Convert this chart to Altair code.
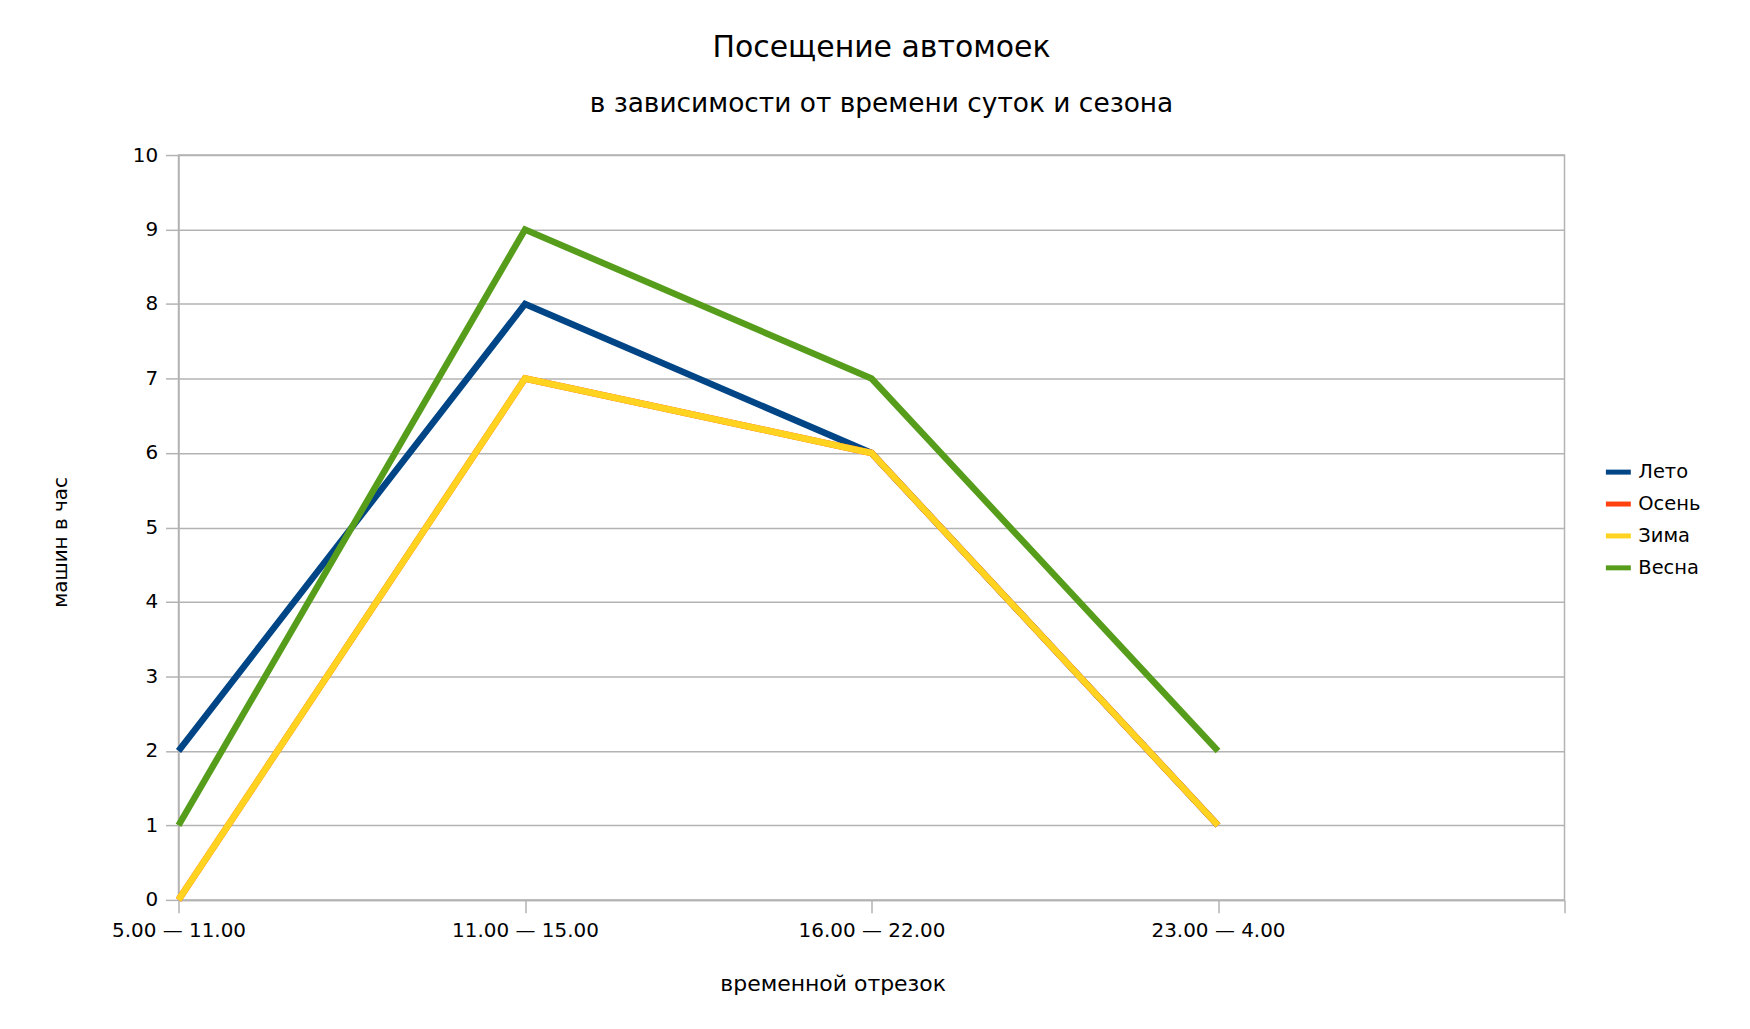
import altair as alt
import pandas as pd

categories = ["5.00 — 11.00", "11.00 — 15.00", "16.00 — 22.00", "23.00 — 4.00"]
series = ["Лето", "Осень", "Зима", "Весна"]
leto = [2, 8, 6, 1]
osen = [0, 7, 6, 1]
zima = [0, 7, 6, 1]
vesna = [1, 9, 7, 2]
colors = ["#004586", "#ff420e", "#ffd320", "#579d1c"]

values = {"Лето": leto, "Осень": osen, "Зима": zima, "Весна": vesna}
rows = []
for s in series:
    for c, v in zip(categories, values[s]):
        rows.append({"period": c, "season": s, "value": v})
df = pd.DataFrame(rows)

FONT = "DejaVu Sans"
GRID = "#b3b3b3"

base = alt.Chart(df).mark_line(strokeWidth=6.5, strokeJoin="miter").encode(
    x=alt.X(
        "period:N",
        scale=alt.Scale(type="point", domain=categories + [" "], padding=0),
        sort=None,
        axis=alt.Axis(
            title="временной отрезок",
            labelAngle=0,
            labelFont=FONT,
            labelFontSize=20,
            labelColor="#000000",
            labelPadding=8,
            tickSize=13,
            tickColor=GRID,
            tickWidth=1.5,
            domainColor=GRID,
            domainWidth=1.5,
            grid=False,
            titleFont=FONT,
            titleFontSize=22,
            titleFontWeight="normal",
            titleColor="#000000",
            titleX=656,
            titleY=84,
            titleAlign="center",
            titleBaseline="middle",
        ),
    ),
    y=alt.Y(
        "value:Q",
        scale=alt.Scale(domain=[0, 10], nice=False),
        axis=alt.Axis(
            title="машин в час",
            values=list(range(11)),
            labelFont=FONT,
            labelFontSize=20,
            labelColor="#000000",
            labelPadding=8,
            tickSize=13,
            tickColor=GRID,
            tickWidth=1.5,
            domainColor=GRID,
            domainWidth=1.5,
            grid=True,
            gridColor=GRID,
            gridWidth=1.5,
            titleFont=FONT,
            titleFontSize=20,
            titleFontWeight="normal",
            titleColor="#000000",
            titleX=-118,
            titleY=388,
            titleAngle=-90,
            titleAlign="center",
            titleBaseline="middle",
        ),
    ),
    color=alt.Color(
        "season:N",
        scale=alt.Scale(domain=series, range=colors),
        legend=alt.Legend(
            title=None,
            orient="none",
            legendX=1429,
            legendY=303,
            symbolType="stroke",
            symbolSize=625,
            symbolStrokeWidth=5,
            labelFont=FONT,
            labelFontSize=19.5,
            labelColor="#000000",
            labelOffset=5,
            rowPadding=7,
        ),
    ),
)

layers = [base.transform_filter(alt.datum.season == s) for s in series]

chart = alt.layer(*layers).properties(
    width=1390,
    height=747,
    autosize=alt.AutoSizeParams(type="none"),
    padding={"left": 171, "top": 146, "right": 178, "bottom": 120},
    background="#ffffff",
    title=alt.TitleParams(
        text="Посещение автомоек",
        subtitle="в зависимости от времени суток и сезона",
        font=FONT,
        fontSize=30,
        fontWeight="normal",
        color="#000000",
        subtitleFont=FONT,
        subtitleFontSize=26.5,
        subtitleColor="#000000",
        subtitlePadding=28.5,
        anchor="middle",
        frame="group",
        dx=10,
        offset=27.5,
    ),
).configure_view(stroke=GRID, strokeWidth=1.5)

chart.save("out.html", embed_options={"renderer": "svg", "actions": False})
